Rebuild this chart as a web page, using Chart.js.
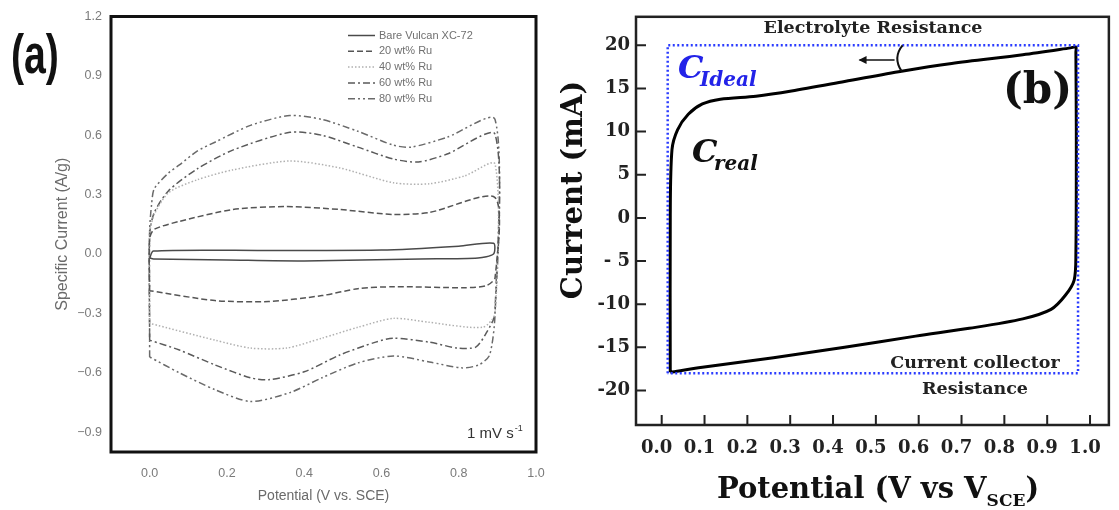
<!DOCTYPE html>
<html lang="en">
<head>
<meta charset="UTF-8">
<title>Cyclic voltammograms</title>
<script src="https://cdn.jsdelivr.net/npm/chart.js"></script>
<style>
  body { margin: 0; background: #fff; }
  canvas { position: absolute; top: 0; }
  #cvRu { left: 0; }
  #cvIdeal { left: 560px; }
</style>
</head>
<body>
<canvas id="cvRu" width="560" height="510"></canvas>
<canvas id="cvIdeal" width="559" height="510"></canvas>
<script>
// ---- (a) Ru loaded Vulcan, 1 mV/s : closed CV loops (potential V, current A/g)
const potBare = [0, 0.01, 0.3, 0.6, 0.8, 0.89, 0.89, 0.85, 0.7, 0.4, 0.2, 0.01, 0];
const curBare = [-0.02, 0.015, 0.018, 0.02, 0.04, 0.055, 0.0, -0.02, -0.025, -0.035, -0.03, -0.025, -0.02];

const pot20 = [0, 0, 0.012, 0.077, 0.215, 0.354, 0.492, 0.631, 0.724, 0.894, 0.894, 0.871, 0.816, 0.631, 0.539, 0.446, 0.308, 0.169, 0];
const cur20 = [-0.185, 0.08, 0.125, 0.165, 0.225, 0.24, 0.225, 0.2, 0.21, 0.285, -0.12, -0.16, -0.17, -0.165, -0.175, -0.21, -0.24, -0.235, -0.185];

const pot40 = [0, 0, 0.012, 0.049, 0.123, 0.215, 0.363, 0.492, 0.631, 0.724, 0.816, 0.894, 0.894, 0.862, 0.724, 0.631, 0.539, 0.446, 0.354, 0.261, 0.169, 0];
const cur40 = [-0.35, 0.1, 0.2, 0.31, 0.375, 0.425, 0.47, 0.435, 0.36, 0.355, 0.395, 0.455, -0.3, -0.37, -0.345, -0.325, -0.37, -0.425, -0.475, -0.475, -0.435, -0.35];

const pot60 = [0, 0, 0.012, 0.049, 0.123, 0.215, 0.363, 0.446, 0.539, 0.631, 0.696, 0.77, 0.894, 0.894, 0.871, 0.844, 0.797, 0.724, 0.631, 0.585, 0.492, 0.4, 0.308, 0.261, 0.169, 0.077, 0];
const cur60 = [-0.435, 0.1, 0.21, 0.32, 0.43, 0.525, 0.615, 0.6, 0.54, 0.48, 0.465, 0.505, 0.605, -0.3, -0.4, -0.47, -0.475, -0.445, -0.425, -0.445, -0.51, -0.595, -0.635, -0.625, -0.56, -0.485, -0.435];

const pot80 = [0, 0, 0.005, 0.012, 0.049, 0.077, 0.123, 0.169, 0.261, 0.363, 0.446, 0.539, 0.631, 0.677, 0.77, 0.894, 0.894, 0.88, 0.852, 0.807, 0.724, 0.631, 0.539, 0.446, 0.363, 0.261, 0.169, 0.077, 0];
const cur80 = [-0.52, 0.12, 0.25, 0.33, 0.41, 0.45, 0.52, 0.565, 0.65, 0.7, 0.68, 0.62, 0.55, 0.54, 0.59, 0.68, -0.3, -0.51, -0.56, -0.575, -0.545, -0.515, -0.55, -0.625, -0.7, -0.745, -0.685, -0.6, -0.52];

const seriesLabels = ['Bare Vulcan XC-72', '20 wt% Ru', '40 wt% Ru', '60 wt% Ru', '80 wt% Ru'];
const tickPotA = [0, 0.2, 0.4, 0.6, 0.8, 1.0];
const tickCurA = [-0.9, -0.6, -0.3, 0, 0.3, 0.6, 0.9, 1.2];

// ---- (b) ideal vs real capacitor (potential V vs SCE, current mA)
const potIdeal = [0.014, 0.014, 0.972, 0.972, 0.014];
const curIdeal = [-18, 20, 20, -18, -18];
const potReal = [0.02, 0.02, 0.024, 0.037, 0.062, 0.095, 0.137, 0.22, 0.303, 0.427, 0.56, 0.677, 0.843, 0.955, 0.967, 0.967, 0.968, 0.967, 0.963, 0.942, 0.909, 0.843, 0.718, 0.593, 0.427, 0.261, 0.095, 0.02];
const curReal = [-17.9, 0.3, 7.9, 10.2, 12.0, 13.2, 13.75, 14.1, 14.7, 15.8, 17.0, 17.9, 18.9, 19.7, 19.8, 19.2, 10, -4.2, -7.2, -9.0, -10.6, -11.7, -12.8, -13.7, -15.0, -16.2, -17.3, -17.9];
const tickPotB = [0, 0.1, 0.2, 0.3, 0.4, 0.5, 0.6, 0.7, 0.8, 0.9, 1.0];
const tickCurB = [-20, -15, -10, -5, 0, 5, 10, 15, 20];

const pts = (xs, ys) => xs.map((x, i) => ({ x: x, y: ys[i] }));
const sans = '"Liberation Sans", Arial, sans-serif';
const serif = '"DejaVu Serif", "Liberation Serif", serif';

// box around the plotting area
const framePlugin = {
  id: 'frame',
  afterDraw(chart, args, opts) {
    const { ctx, chartArea: a } = chart;
    ctx.save();
    ctx.strokeStyle = opts.color;
    ctx.lineWidth = opts.width;
    ctx.strokeRect(a.left, a.top, a.right - a.left, a.bottom - a.top);
    ctx.restore();
  }
};

// legend with dashed line samples, top right of panel (a)
const lineLegend = {
  id: 'lineLegend',
  afterDraw(chart) {
    const ctx = chart.ctx;
    const x0 = chart.chartArea.left + 237;
    ctx.save();
    ctx.font = '11px ' + sans;
    ctx.textBaseline = 'middle';
    chart.data.datasets.forEach((ds, i) => {
      const y = chart.chartArea.top + 19 + i * 15.8;
      ctx.strokeStyle = ds.borderColor;
      ctx.lineWidth = ds.borderWidth;
      ctx.setLineDash(ds.borderDash || []);
      ctx.beginPath();
      ctx.moveTo(x0, y);
      ctx.lineTo(x0 + 27, y);
      ctx.stroke();
      ctx.fillStyle = '#707070';
      ctx.fillText(ds.label, x0 + 31, y);
    });
    ctx.restore();
  }
};

const notesA = {
  id: 'notesA',
  afterDraw(chart) {
    const ctx = chart.ctx;
    const a = chart.chartArea;
    ctx.save();
    // tall, narrow panel letter
    ctx.fillStyle = '#111';
    ctx.font = 'bold 56px ' + sans;
    ctx.textBaseline = 'middle';
    ctx.save();
    ctx.translate(11, 58);
    ctx.scale(0.7, 1);
    ctx.fillText('(a)', 0, 0);
    ctx.restore();
    // scan rate
    ctx.fillStyle = '#333';
    ctx.textBaseline = 'alphabetic';
    ctx.font = '15px ' + sans;
    const t = '1 mV s';
    const w = ctx.measureText(t).width;
    ctx.fillText(t, a.right - 69, a.bottom - 14);
    ctx.font = '9px ' + sans;
    ctx.fillText('-1', a.right - 69 + w + 1, a.bottom - 21);
    ctx.restore();
  }
};

// short inward ticks on the bottom and left axes of panel (b)
const innerTicks = {
  id: 'innerTicks',
  afterDraw(chart) {
    const { ctx, chartArea: a, scales } = chart;
    ctx.save();
    ctx.strokeStyle = '#222';
    ctx.lineWidth = 2;
    ctx.beginPath();
    tickPotB.forEach(v => {
      const x = scales.x.getPixelForValue(v);
      ctx.moveTo(x, a.bottom);
      ctx.lineTo(x, a.bottom - 10);
    });
    tickCurB.forEach(v => {
      const y = scales.y.getPixelForValue(v);
      ctx.moveTo(a.left, y);
      ctx.lineTo(a.left + 10, y);
    });
    ctx.stroke();
    ctx.restore();
  }
};

const notesB = {
  id: 'notesB',
  afterDraw(chart) {
    const { ctx, scales } = chart;
    const xs = scales.x, ys = scales.y;
    ctx.save();
    ctx.fillStyle = '#222';
    ctx.textAlign = 'center';
    ctx.textBaseline = 'middle';
    ctx.font = 'bold 17.5px ' + serif;
    ctx.fillText('Electrolyte Resistance', 313, 28);
    ctx.fillText('Current collector', 415, 363);
    ctx.fillText('Resistance', 415, 389);

    // arrow and bracket marking the sloped top edge
    const xb = xs.getPixelForValue(0.56);
    ctx.strokeStyle = '#111';
    ctx.lineWidth = 2;
    ctx.beginPath();
    ctx.moveTo(xb + 1, ys.getPixelForValue(20));
    ctx.quadraticCurveTo(xb - 9, ys.getPixelForValue(18.6), xb, ys.getPixelForValue(17));
    ctx.stroke();
    ctx.lineWidth = 1.6;
    ctx.beginPath();
    ctx.moveTo(xb - 7, 60);
    ctx.lineTo(xb - 42, 60);
    ctx.stroke();
    ctx.beginPath();
    ctx.moveTo(xb - 43, 60);
    ctx.lineTo(xb - 35, 56);
    ctx.lineTo(xb - 35, 64);
    ctx.closePath();
    ctx.fillStyle = '#111';
    ctx.fill();

    // C ideal / C real
    ctx.textAlign = 'left';
    ctx.textBaseline = 'alphabetic';
    ctx.fillStyle = '#2323e8';
    ctx.font = 'italic bold 32px ' + serif;
    ctx.fillText('C', 118, 78);
    ctx.font = 'italic bold 20px ' + serif;
    ctx.fillText('Ideal', 140, 86);
    ctx.fillStyle = '#111';
    ctx.font = 'italic bold 32px ' + serif;
    ctx.fillText('C', 132, 162);
    ctx.font = 'italic bold 20px ' + serif;
    ctx.fillText('real', 154, 170);

    // panel letter
    ctx.font = 'bold 42px ' + serif;
    ctx.textBaseline = 'middle';
    ctx.fillText('(b)', 443, 92);

    // axis titles
    ctx.font = 'bold 29px ' + serif;
    ctx.save();
    ctx.translate(14, 190);
    ctx.rotate(-Math.PI / 2);
    ctx.textAlign = 'center';
    ctx.fillText('Current (mA)', 0, 0);
    ctx.restore();

    ctx.textBaseline = 'alphabetic';
    const main = 'Potential (V vs V';
    ctx.font = 'bold 29px ' + serif;
    const wMain = ctx.measureText(main).width;
    ctx.font = 'bold 17px ' + serif;
    const wSub = ctx.measureText('SCE').width;
    ctx.font = 'bold 29px ' + serif;
    const wClose = ctx.measureText(')').width;
    let x = 318 - (wMain + wSub + wClose) / 2;
    ctx.fillText(main, x, 498);
    x += wMain;
    ctx.font = 'bold 17px ' + serif;
    ctx.fillText('SCE', x, 506);
    x += wSub;
    ctx.font = 'bold 29px ' + serif;
    ctx.fillText(')', x, 498);
    ctx.restore();
  }
};

const grey = { size: 12.5, family: sans };

new Chart(document.getElementById('cvRu'), {
  type: 'scatter',
  data: {
    datasets: [
      { label: seriesLabels[0], data: pts(potBare, curBare), borderColor: '#4a4a4a', borderWidth: 1.5, borderDash: [] },
      { label: seriesLabels[1], data: pts(pot20, cur20), borderColor: '#555', borderWidth: 1.5, borderDash: [6, 3] },
      { label: seriesLabels[2], data: pts(pot40, cur40), borderColor: '#b0b0b0', borderWidth: 1.5, borderDash: [1.5, 2] },
      { label: seriesLabels[3], data: pts(pot60, cur60), borderColor: '#5a5a5a', borderWidth: 1.5, borderDash: [7, 3, 2, 3] },
      { label: seriesLabels[4], data: pts(pot80, cur80), borderColor: '#6a6a6a', borderWidth: 1.5, borderDash: [7, 3, 2, 3, 2, 3] }
    ].map(ds => Object.assign(ds, { showLine: true, pointRadius: 0, tension: 0.25, fill: false }))
  },
  options: {
    responsive: false,
    animation: false,
    devicePixelRatio: 1,
    layout: { padding: { left: 53, right: 24, top: 16, bottom: 5 } },
    plugins: { legend: { display: false }, tooltip: { enabled: false }, frame: { width: 3, color: '#111' } },
    scales: {
      x: {
        type: 'linear', min: -0.1, max: 1.0,
        afterBuildTicks: s => { s.ticks = tickPotA.map(v => ({ value: v })); },
        afterFit: s => { s.height = 53; },
        grid: { display: false, drawTicks: false },
        border: { display: false },
        ticks: { padding: 14, color: '#7a7a7a', font: grey, autoSkip: false, maxRotation: 0, callback: v => v.toFixed(1) },
        title: { display: true, text: 'Potential (V vs. SCE)', color: '#6a6a6a', font: { size: 14, family: sans }, padding: 0 }
      },
      y: {
        type: 'linear', min: -1.0, max: 1.2,
        afterBuildTicks: s => { s.ticks = tickCurA.map(v => ({ value: v })); },
        afterFit: s => { s.width = 58; },
        grid: { display: false, drawTicks: false },
        border: { display: false },
        ticks: { padding: 9, color: '#7a7a7a', font: grey, autoSkip: false, callback: v => (v < 0 ? '\u2212' + Math.abs(v).toFixed(1) : v.toFixed(1)) },
        title: { display: true, text: 'Specific Current (A/g)', color: '#6a6a6a', font: { size: 16, family: sans }, padding: 0 }
      }
    }
  },
  plugins: [framePlugin, lineLegend, notesA]
});

const boldTick = { size: 18, family: serif, weight: 'bold' };

new Chart(document.getElementById('cvIdeal'), {
  type: 'scatter',
  data: {
    datasets: [
      { label: 'C ideal', data: pts(potIdeal, curIdeal), borderColor: '#2b3cff', borderWidth: 2.5, borderDash: [2, 2.5], tension: 0, order: 0 },
      { label: 'C real', data: pts(potReal, curReal), borderColor: '#000', borderWidth: 3, tension: 0.3, order: 1 }
    ].map(ds => Object.assign(ds, { showLine: true, pointRadius: 0, fill: false }))
  },
  options: {
    responsive: false,
    animation: false,
    devicePixelRatio: 1,
    layout: { padding: { left: 0, right: 8, top: 14, bottom: 0 } },
    plugins: { legend: { display: false }, tooltip: { enabled: false }, frame: { width: 2.5, color: '#222' } },
    scales: {
      x: {
        type: 'linear', min: -0.06, max: 1.044,
        afterBuildTicks: s => { s.ticks = tickPotB.map(v => ({ value: v })); },
        afterFit: s => { s.height = 85; },
        grid: { display: false, drawTicks: false },
        border: { display: false },
        ticks: { padding: 13, labelOffset: -5, color: '#222', font: boldTick, autoSkip: false, maxRotation: 0, callback: v => v.toFixed(1) }
      },
      y: {
        type: 'linear', min: -24, max: 23.3,
        afterBuildTicks: s => { s.ticks = tickCurB.map(v => ({ value: v })); },
        afterFit: s => { s.width = 76; },
        grid: { display: false, drawTicks: false },
        border: { display: false },
        ticks: { padding: 6, color: '#222', font: { size: 18, family: serif, weight: 'bold' }, autoSkip: false, callback: v => (v === -5 ? '- 5' : String(v)) }
      }
    }
  },
  plugins: [framePlugin, innerTicks, notesB]
});
</script>
</body>
</html>
